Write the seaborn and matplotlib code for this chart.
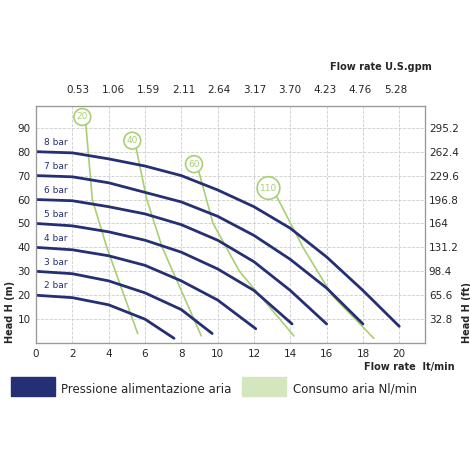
import matplotlib
matplotlib.use("Agg")
import matplotlib.pyplot as plt
import matplotlib.patches as mpatches
import pandas as pd
import seaborn as sns

# pressure curves (flow lt/min, head m)
bar_labels = ["2 bar", "3 bar", "4 bar", "5 bar", "6 bar", "7 bar", "8 bar"]
bar_flow = [
    [0, 2, 4, 6, 7.6],
    [0, 2, 4, 6, 8, 9.7],
    [0, 2, 4, 6, 8, 10, 12.1],
    [0, 2, 4, 6, 8, 10, 12, 14.1],
    [0, 2, 4, 6, 8, 10, 12, 14, 16],
    [0, 2, 4, 6, 8, 10, 12, 14, 16, 18],
    [0, 2, 4, 6, 8, 10, 12, 14, 16, 18, 20],
]
bar_head = [
    [20, 19, 16, 10, 2],
    [30, 29, 26, 21, 14, 4],
    [40, 39, 36.5, 32.5, 26, 18, 6],
    [50, 49, 46.5, 43, 38, 31, 22, 8],
    [60, 59.5, 57, 54, 49.5, 43, 34, 22, 8],
    [70, 69.5, 67, 63, 59, 53, 45, 35, 23, 8],
    [80, 79.5, 77, 74, 70, 64, 57, 48, 36, 22, 7],
]

# air consumption lines (Nl/min)
air_labels = ["20", "40", "60", "110"]
air_flow = [[2.75, 3.1, 3.9, 5.6], [5.5, 6.1, 6.95, 9.1],
            [8.95, 9.75, 11.2, 14.2], [13.2, 14.7, 16.3, 18.6]]
air_head = [[91, 60, 40, 4], [82, 60, 40, 3], [72, 50, 30, 3], [62, 40, 20, 2]]
air_label_pos = [(2.55, 94.5), (5.3, 84.6), (8.7, 74.8), (12.8, 64.8)]

head_m = [10, 20, 30, 40, 50, 60, 70, 80, 90]
head_ft = ["32.8", "65.6", "98.4", "131.2", "164", "196.8", "229.6", "262.4", "295.2"]
gpm_labels = ["0.53", "1.06", "1.59", "2.11", "2.64", "3.17", "3.70", "4.23", "4.76", "5.28"]
gpm_pos = [2.33 + 1.94 * i for i in range(10)]

navy = "#252f73"
green = "#a9cf73"

sns.set_style("white")
fig = plt.figure(figsize=(4.7, 4.7), dpi=100)
ax = fig.add_axes([0.0766, 0.270, 0.827, 0.504])

bars = pd.concat([pd.DataFrame({"flow": f, "head": h, "s": l})
                  for f, h, l in zip(bar_flow, bar_head, bar_labels)])
airs = pd.concat([pd.DataFrame({"flow": f, "head": h, "s": l})
                  for f, h, l in zip(air_flow, air_head, air_labels)])

sns.lineplot(data=airs, x="flow", y="head", units="s", estimator=None, sort=False,
             color=green, lw=1.2, ax=ax)
sns.lineplot(data=bars, x="flow", y="head", units="s", estimator=None, sort=False,
             color=navy, lw=2.0, ax=ax)

for l, h in zip(bar_labels, bar_head):
    ax.text(0.45, h[0] + 2, l, color=navy, fontsize=6.5, va="bottom")
for l, (x, y) in zip(air_labels, air_label_pos):
    ax.text(x, y, l, color=green, fontsize=6.5, ha="center", va="center",
            bbox=dict(boxstyle="circle,pad=0.3", fc="white", ec=green, lw=1.2))

ax.set_xlim(0, 21.4)
ax.set_ylim(0, 99)
ax.set_xticks(range(0, 21, 2))
ax.set_yticks(head_m)
ax.tick_params(length=0, labelsize=7.5, pad=4)
ax.grid(True, ls="--", color="#cccccc", lw=0.6)
for s in ax.spines.values():
    s.set_color("#999999")
ax.set_xlabel("")
ax.set_ylabel("Head H (m)", fontsize=7, fontweight="bold", loc="bottom", labelpad=2)

axr = ax.twinx()
axr.set_ylim(0, 99)
axr.set_yticks(head_m)
axr.set_yticklabels(head_ft)
axr.tick_params(length=0, labelsize=7.5, pad=3)
axr.set_ylabel("Head H (ft)", fontsize=7, fontweight="bold", loc="bottom", labelpad=2)
for s in axr.spines.values():
    s.set_color("#999999")

axt = ax.twiny()
axt.set_xlim(0, 21.4)
axt.set_xticks(gpm_pos)
axt.set_xticklabels(gpm_labels)
axt.tick_params(length=0, labelsize=7.5, pad=8)
for s in axt.spines.values():
    s.set_color("#999999")

fig.text(0.81, 0.85, "Flow rate U.S.gpm", fontsize=7, fontweight="bold", ha="center")
fig.text(0.87, 0.212, "Flow rate  lt/min", fontsize=7, fontweight="bold", ha="center")

fig.patches.append(mpatches.Rectangle((0.024, 0.158), 0.094, 0.04, color=navy,
                                      transform=fig.transFigure))
fig.text(0.13, 0.172, "Pressione alimentazione aria", fontsize=8.5, va="center")
fig.patches.append(mpatches.Rectangle((0.515, 0.158), 0.094, 0.04, color="#d3e6bd",
                                      transform=fig.transFigure))
fig.text(0.623, 0.172, "Consumo aria Nl/min", fontsize=8.5, va="center")

fig.savefig("out.png", dpi=100)
